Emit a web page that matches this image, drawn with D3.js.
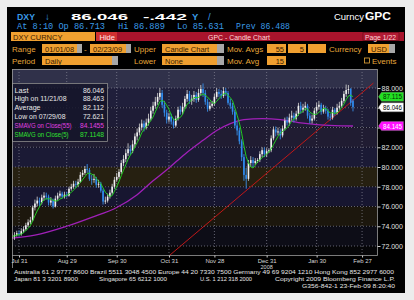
<!DOCTYPE html>
<html lang="en">
<head>
<meta charset="utf-8">
<title>DXY Curncy GPC</title>
<script src="https://d3js.org/d3.v7.min.js"></script>
<style>
  body { margin: 0; background: #ececec; }
  text { font-family: "Liberation Sans", Arial, sans-serif; }
  .mono { font-family: "Liberation Mono", "DejaVu Sans Mono", monospace; }
</style>
</head>
<body>
<div id="chart"></div>
<script>
// trading days shown on the axis (weekdays), first / last
var firstDay = "2008-07-28", lastDay = "2009-03-09";

// daily OHLC, Jul 28 2008 .. Feb 23 2009
var opens = [72.80,72.95,73.10,73.30,73.20, 73.50,73.70,74.10,74.40,74.60, 75.90,76.30,76.60,76.40,76.90, 77.10,77.00,76.40,76.60,76.00, 76.80,77.10,77.30,77.00,77.20,
  77.10,77.80,78.00,78.30,78.20, 78.50,79.20,79.40,79.80,79.70, 78.80,78.70,78.80,78.20,78.30, 77.60,76.50,76.60,77.00,77.40, 78.00,78.70,
  79.00,79.50,80.40, 80.80,81.40,81.80,81.60,82.30, 83.10,83.50,84.00,84.40,84.00, 84.50,84.90,85.70,86.20,86.60, 87.10,87.50,86.30,85.50,84.80,
  85.10,84.60,84.20,84.90,85.80, 85.60,86.10,86.90,87.40,86.70, 86.90,87.30,86.80,87.50,87.90, 87.50,86.60,85.90,86.20,86.40,
  87.10,87.60,87.40,87.20,87.70, 87.50,86.50,86.20,85.60,84.20, 83.70,82.60,81.00,79.20,78.80, 80.40,80.70,80.40,80.60,80.70, 81.30,81.70,81.30,
  81.60,81.70, 82.90,83.80,83.50,83.60,83.20, 83.90,84.70,84.50,85.00,85.20, 84.90,85.40,86.20,85.80,86.00, 86.20,85.20,84.70,84.90,85.70,
  86.10,86.30,85.60,85.90,85.70, 85.10,85.00,85.80,85.50,86.00, 86.20,86.70,87.40,87.80,87.90, 86.71];
var highs = [73.25,73.40,73.55,73.60,73.80, 74.00,74.35,74.70,74.95,76.10, 76.70,77.00,76.90,77.20,77.45, 77.40,77.20,76.95,76.80,77.10, 77.40,77.60,77.50,77.50,77.50,
  78.00,78.30,78.60,78.60,78.80, 79.50,79.70,80.10,80.30,79.90, 79.20,79.30,79.00,78.70,78.50, 77.80,77.00,77.30,77.70,78.30, 79.00,79.40,
  79.80,80.70,81.20, 81.80,82.40,82.20,82.70,83.40, 83.90,84.40,84.80,84.70,84.90, 85.40,86.10,86.60,87.10,87.50, 88.00,87.80,86.70,85.80,85.50,
  85.40,84.90,85.20,86.10,86.20, 86.50,87.20,87.80,87.70,87.30, 87.70,87.60,87.90,88.30,88.463, 87.80,86.90,86.60,86.70,87.40,
  88.00,87.90,87.80,88.10,88.00, 87.70,86.90,86.50,85.80,84.60, 84.00,82.80,81.30,79.90,80.70, 81.10,81.00,80.90,80.90,81.60, 82.00,82.00,81.90,
  81.90,83.20, 84.10,84.10,84.00,83.90,84.20, 85.00,85.10,85.40,85.70,85.50, 85.70,86.50,86.60,86.40,86.60, 86.40,85.50,85.30,86.00,86.50,
  86.70,86.50,86.30,86.20,85.90, 85.40,86.10,86.00,86.40,86.60, 87.00,87.70,88.35,88.30,88.00, 86.889];
var lows = [72.70,72.62,72.95,72.95,73.05, 73.30,73.55,73.90,74.20,74.50, 75.60,76.00,76.00,76.20,76.60, 76.70,76.10,76.10,75.80,75.90, 76.60,76.90,76.80,76.80,76.90,
  77.00,77.60,77.80,77.90,78.00, 78.40,79.00,79.20,79.40,78.60, 78.20,78.40,77.90,77.90,77.40, 76.20,76.25,76.40,76.80,77.20, 77.80,78.50,
  78.80,79.30,80.10, 80.50,81.10,81.20,81.40,82.00, 82.70,83.20,83.70,83.60,83.80, 84.20,84.70,85.40,85.90,86.30, 86.80,86.00,85.10,84.40,84.50,
  84.30,83.90,84.00,84.70,85.30, 85.30,85.90,86.60,86.40,86.30, 86.60,86.50,86.60,87.20,87.10, 86.30,85.60,85.70,86.00,86.20,
  86.90,87.10,86.90,87.00,87.20, 86.30,85.90,85.30,83.90,83.20, 82.30,80.60,78.60,77.80,78.60, 80.00,80.00,80.20,80.40,80.50, 81.00,81.00,81.00,
  81.40,81.50, 82.70,83.10,83.20,82.80,83.00, 83.70,84.20,84.20,84.70,84.50, 84.70,85.20,85.40,85.50,85.70, 84.90,84.40,84.40,84.70,85.40,
  85.80,85.30,85.40,85.40,84.80, 84.70,84.80,85.20,85.30,85.80, 86.00,86.50,87.10,87.40,86.20, 85.631];
var closes = [72.95,73.10,73.30,73.20,73.50, 73.70,74.10,74.40,74.60,75.90, 76.30,76.60,76.40,76.90,77.10, 77.00,76.40,76.60,76.00,76.80, 77.10,77.30,77.00,77.20,77.10,
  77.80,78.00,78.30,78.20,78.50, 79.20,79.40,79.80,79.70,78.80, 78.70,78.80,78.20,78.30,77.60, 76.50,76.60,77.00,77.40,78.00, 78.70,79.00,
  79.50,80.40,80.80, 81.40,81.80,81.60,82.30,83.10, 83.50,84.00,84.40,84.00,84.50, 84.90,85.70,86.20,86.60,87.10, 87.50,86.30,85.50,84.80,85.10,
  84.60,84.20,84.90,85.80,85.60, 86.10,86.90,87.40,86.70,86.90, 87.30,86.80,87.50,87.90,87.50, 86.60,85.90,86.20,86.40,87.10,
  87.60,87.40,87.20,87.70,87.50, 86.50,86.20,85.60,84.20,83.70, 82.60,81.00,79.20,78.80,80.40, 80.70,80.40,80.60,80.70,81.30, 81.70,81.30,81.60,
  81.70,82.90, 83.80,83.50,83.60,83.20,83.90, 84.70,84.50,85.00,85.20,84.90, 85.40,86.20,85.80,86.00,86.20, 85.20,84.70,84.90,85.70,86.10,
  86.30,85.60,85.90,85.70,85.10, 85.00,85.80,85.50,86.00,86.20, 86.70,87.40,87.80,87.90,86.49, 86.05];

// 55 day SMA at these trading-day positions
var sma55Idx  = [0, 10, 24, 35, 46, 55, 62, 69, 76, 84, 90, 96, 102, 110, 118, 126, 134, 142, 150];
var sma55Vals = [72.8, 73.1, 74.0, 74.9, 75.9, 77.2, 78.6, 79.9, 81.3, 82.7, 83.7, 84.4, 84.8, 84.9, 84.8, 84.5, 84.3, 84.2, 84.15];

// red trend line end points
var trendDates = ["2008-10-31", "2009-03-06"];
var trendVals = [71.0, 88.5];

var yTicks = [72, 74, 76, 78, 80, 82, 84, 86, 88];
var xTickDates = ["2008-07-31","2008-08-29","2008-09-30","2008-10-31","2008-11-28","2008-12-31","2009-01-30","2009-02-27"];
var xTickLabels = ["Jul 31","Aug 29","Sep 30","Oct 31","Nov 28","Dec 31","Jan 30","Feb 27"];

var legendLabels = ["Last", "High on 11/21/08", "Average", "Low on  07/29/08", "SMAVG on Close(55)", "SMAVG on Close(5)"];
var legendValues = ["86.046", "88.463", "82.112", "72.621", "84.1455", "87.1148"];
var legendColors = ["#e8e8e8", "#e8e8e8", "#e8e8e8", "#e8e8e8", "#e040e0", "#30e030"];

var tagValues = [87.1148, 86.046, 84.1455];
var tagLabels = ["87.115", "86.046", "84.145"];

var W = 414, H = 300;
var plotL = 12, plotR = 377, plotT = 69, plotB = 255;
var orange = "#f0a030", labelOrange = "#e8a83a", blue = "#3a9ae6";

var svg = d3.select("#chart").append("svg")
    .attr("width", W).attr("height", H);

svg.append("rect").attr("width", W).attr("height", H).attr("fill", "#ececec");
svg.append("rect").attr("x", 7).attr("y", 7).attr("width", 398).attr("height", 286).attr("fill", "#000");

// ---- header ----
function txt(s, x, yy, opts) {
    var t = svg.append("text").attr("x", x).attr("y", yy).text(s)
        .attr("fill", opts.fill || "#fff")
        .attr("font-size", opts.size || 8);
    if (opts.bold) t.attr("font-weight", "bold");
    if (opts.mono) t.attr("class", "mono");
    if (opts.len) t.attr("textLength", opts.len).attr("lengthAdjust", "spacingAndGlyphs");
    if (opts.anchor) t.attr("text-anchor", opts.anchor);
    return t;
}
txt("DXY", 17, 19.5, {fill: blue, size: 9.5, bold: true, len: 18});
txt("\u2193", 45, 19.5, {fill: blue, size: 9.5, bold: true});
txt("86.046", 71, 19.5, {size: 9.5, bold: true, len: 57});
txt("-.442", 143, 19.5, {size: 9.5, bold: true, len: 44});
txt("Y", 192, 19.5, {fill: blue, size: 9.5, bold: true});
txt("/", 208, 19.5, {fill: blue, size: 9.5});
txt("Curncy", 334, 19.5, {size: 9, len: 30});
txt("GPC", 365, 19.5, {size: 10, bold: true, len: 26});

txt("At 8:10 Op 86.713", 17, 29, {fill: blue, size: 8.8, mono: true, len: 88});
txt("Hi 86.889", 118, 29, {fill: blue, size: 8.8, mono: true, len: 47});
txt("Lo 85.631", 177, 29, {fill: blue, size: 8.8, mono: true, len: 47});
txt("Prev 86.488", 236, 29, {fill: blue, size: 8.8, mono: true, len: 54});

// ---- form rows ----
svg.append("rect").attr("x", 11).attr("y", 32).attr("width", 84).attr("height", 9).attr("fill", orange);
txt("DXY CURNCY", 13, 39.5, {fill: "#3a1c00", size: 7.5});
svg.append("rect").attr("x", 117).attr("y", 32).attr("width", 287).attr("height", 9).attr("fill", "#a8142c");
svg.append("rect").attr("x", 96).attr("y", 32).attr("width", 21).attr("height", 9).attr("fill", "#d03030");
txt("Hide", 99.5, 39.5, {fill: "#ffe8e8", size: 7.5});
txt("GPC - Candle Chart", 208, 39.5, {fill: "#ffd8d8", size: 7.5, len: 62});
svg.append("rect").attr("x", 363).attr("y", 32.5).attr("width", 36).attr("height", 8).attr("fill", "#b01a34")
    .attr("stroke", "#70101c").attr("stroke-width", 0.8);
txt("Page 1/22", 365, 39.5, {fill: "#ffd8d8", size: 7.5, len: 31});

function field(x, w, gray, label, yy, right) {
    svg.append("rect").attr("x", x).attr("y", yy).attr("width", w).attr("height", 9).attr("fill", orange);
    if (gray) svg.append("rect").attr("x", x + w).attr("y", yy).attr("width", gray).attr("height", 9).attr("fill", "#a8a8a8");
    if (label) {
        if (right) txt(label, x + w - 2, yy + 7.5, {fill: "#3a1c00", size: 7.5, anchor: "end"});
        else txt(label, x + 3, yy + 7.5, {fill: "#3a1c00", size: 7.5});
    }
}
var r1 = 44, r2 = 56;
txt("Range", 12, r1 + 7.5, {fill: labelOrange, size: 8});
field(42, 35, 5, "01/01/08", r1);
txt("-", 84, r1 + 7.5, {fill: labelOrange, size: 8});
field(90, 36, 5, "02/23/09", r1);
txt("Upper", 134, r1 + 7.5, {fill: labelOrange, size: 8});
field(162, 55, 7, "Candle Chart", r1);
txt("Mov. Avgs", 227, r1 + 7.5, {fill: labelOrange, size: 8});
field(267, 19, 0, "55", r1, true);
field(288, 18, 0, "5", r1, true);
field(308, 18, 0, "", r1);
txt("Currency", 329, r1 + 7.5, {fill: labelOrange, size: 8});
field(368, 21, 6, "USD", r1);

txt("Period", 12, r2 + 7.5, {fill: labelOrange, size: 8});
field(42, 70, 6, "Daily", r2);
txt("Lower", 134, r2 + 7.5, {fill: labelOrange, size: 8});
field(162, 55, 7, "None", r2);
txt("Mov. Avg", 227, r2 + 7.5, {fill: labelOrange, size: 8});
field(267, 19, 0, "15", r2, true);
svg.append("rect").attr("x", 364.5).attr("y", r2 + 2).attr("width", 5).attr("height", 5)
    .attr("fill", "none").attr("stroke", labelOrange).attr("stroke-width", 0.8);
txt("Events", 372, r2 + 7.5, {fill: labelOrange, size: 8});

// ---- scales ----
var parse = d3.timeParse("%Y-%m-%d"), fmt = d3.timeFormat("%Y-%m-%d");
var days = d3.timeDays(parse(firstDay), d3.timeDay.offset(parse(lastDay), 1))
    .filter(function(d) { return d.getDay() % 6 !== 0; })
    .map(fmt);

var x = d3.scalePoint().domain(days).range([12.2, 375.7]);
var y = d3.scaleLinear().domain([72, 88]).range([246, 88]);

var bars = closes.map(function(c, i) {
    return {key: days[i], open: opens[i], high: highs[i], low: lows[i], close: c};
});

svg.append("clipPath").attr("id", "clip").append("rect")
    .attr("x", plotL).attr("y", plotT).attr("width", plotR - plotL).attr("height", plotB - plotT);

// ---- plot background bands ----
var bands = [[88, 90, "#30314a"], [86, 88, "#201f3b"], [84, 86, "#1e1c36"], [82, 84, "#201c32"],
             [80, 82, "#1b1a35"], [78, 80, "#262011"], [76, 78, "#171630"], [74, 76, "#1c170d"],
             [72, 74, "#0d0d17"], [70, 72, "#060608"]];
var bg = svg.append("g").attr("clip-path", "url(#clip)");
bg.selectAll("rect").data(bands).join("rect")
    .attr("x", plotL).attr("width", plotR - plotL)
    .attr("y", function(d) { return y(d[1]); })
    .attr("height", function(d) { return y(d[0]) - y(d[1]); })
    .attr("fill", function(d) { return d[2]; });

// grid
bg.selectAll("line.h").data(yTicks).join("line").attr("class", "h")
    .attr("x1", plotL).attr("x2", plotR)
    .attr("y1", function(d) { return y(d); }).attr("y2", function(d) { return y(d); })
    .attr("stroke", "#8a8a9a").attr("stroke-width", 0.7).attr("stroke-dasharray", "1,2");
bg.selectAll("line.v").data(xTickDates).join("line").attr("class", "v")
    .attr("x1", function(d) { return x(d); }).attr("x2", function(d) { return x(d); })
    .attr("y1", plotT).attr("y2", plotB)
    .attr("stroke", "#8a8a9a").attr("stroke-width", 0.7).attr("stroke-dasharray", "1,2");

// ---- legend box ----
var legendLen = [14, 52, 26, 51, 57, 54];
svg.append("rect").attr("x", 12.5).attr("y", 83.5).attr("width", 95).attr("height", 58)
    .attr("fill", "#15152a").attr("fill-opacity", 0.85)
    .attr("stroke", "#8a8a8a").attr("stroke-width", 0.8);
legendLabels.forEach(function(l, i) {
    var yy = 92.5 + i * 8.8;
    txt(l, 14.5, yy, {fill: legendColors[i], size: 6.8, len: legendLen[i]});
    txt(legendValues[i], 104, yy, {fill: legendColors[i], size: 6.8, anchor: "end",
        len: legendValues[i].length > 6 ? 24 : 21});
});

// ---- lines and candles ----
var plot = svg.append("g").attr("clip-path", "url(#clip)");

plot.append("path")
    .datum(trendDates.map(function(d, i) { return [d, trendVals[i]]; }))
    .attr("fill", "none").attr("stroke", "#c01818").attr("stroke-width", 1)
    .attr("d", d3.line().x(function(d) { return x(d[0]); }).y(function(d) { return y(d[1]); }));

plot.append("path")
    .datum(sma55Idx.map(function(k, i) { return [days[k], sma55Vals[i]]; }))
    .attr("fill", "none").attr("stroke", "#a020b8").attr("stroke-width", 1.3)
    .attr("d", d3.line().curve(d3.curveMonotoneX)
        .x(function(d) { return x(d[0]); }).y(function(d) { return y(d[1]); }));

plot.selectAll("line.wick").data(bars).join("line").attr("class", "wick")
    .attr("x1", function(d) { return x(d.key); }).attr("x2", function(d) { return x(d.key); })
    .attr("y1", function(d) { return y(d.high); }).attr("y2", function(d) { return y(d.low); })
    .attr("stroke", function(d) { return d.close >= d.open ? "#c4c4c4" : "#3a8ee6"; })
    .attr("stroke-width", 0.9);

plot.selectAll("rect.body").data(bars).join("rect").attr("class", "body")
    .attr("x", function(d) { return x(d.key) - 0.8; }).attr("width", 1.6)
    .attr("y", function(d) { return y(Math.max(d.open, d.close)); })
    .attr("height", function(d) { return Math.max(1, Math.abs(y(d.open) - y(d.close))); })
    .attr("fill", function(d) { return d.close >= d.open ? "#f0f0f0" : "#2f8cf0"; });

// 5 day moving average of the closes
var sma5 = closes.map(function(c, i) {
    return [days[i], d3.mean(closes.slice(Math.max(0, i - 4), i + 1))];
});
plot.append("path").datum(sma5)
    .attr("fill", "none").attr("stroke", "#22cc22").attr("stroke-width", 1)
    .attr("d", d3.line().x(function(d) { return x(d[0]); }).y(function(d) { return y(d[1]); }));

// ---- frame and axes ----
svg.append("rect").attr("x", plotL + 0.5).attr("y", plotT + 0.5)
    .attr("width", plotR - plotL).attr("height", plotB - plotT)
    .attr("fill", "none").attr("stroke", "#9a9a9a").attr("stroke-width", 0.8);
svg.append("line").attr("x1", plotL + 0.5).attr("x2", plotL + 0.5).attr("y1", plotB).attr("y2", 268)
    .attr("stroke", "#9a9a9a").attr("stroke-width", 0.8);

var yAxis = svg.append("g").attr("transform", "translate(" + (plotR + 0.5) + ",0)")
    .call(d3.axisRight(y).tickValues(yTicks).tickFormat(d3.format(".3f")).tickSize(3).tickPadding(1));
yAxis.select(".domain").remove();
yAxis.selectAll("line").attr("stroke", "#cfcfcf");
yAxis.selectAll("text").attr("fill", "#e0e0e0").attr("font-size", 7)
    .attr("font-family", "Liberation Sans, Arial, sans-serif");

var xAxis = svg.append("g").attr("transform", "translate(0," + (plotB + 0.5) + ")")
    .call(d3.axisBottom(x).tickValues(xTickDates)
        .tickFormat(function(d, i) { return xTickLabels[i]; }).tickSize(2).tickPadding(1));
xAxis.select(".domain").remove();
xAxis.selectAll("line").attr("stroke", "#cfcfcf");
xAxis.selectAll("text").attr("fill", "#d8d8d8").attr("font-size", 6)
    .attr("font-family", "Liberation Sans, Arial, sans-serif");
txt("2008", x("2008-12-31"), 268.5, {fill: "#d8d8d8", size: 5.5, anchor: "middle"});

// value tags on the right axis
var tagFill = ["#22e022", "#ffffff", "#ff10ff"], tagText = ["#003000", "#000000", "#ffffff"];
tagValues.forEach(function(v, i) {
    var cy = y(v), x0 = plotR + 1.5;
    svg.append("path")
        .attr("d", "M" + x0 + "," + cy + "L" + (x0 + 3) + "," + (cy - 4.5) + "H" + (x0 + 25) +
              "V" + (cy + 4.5) + "H" + (x0 + 3) + "Z")
        .attr("fill", tagFill[i]).attr("stroke", "#888").attr("stroke-width", 0.4);
    txt(tagLabels[i], x0 + 4.5, cy + 2.6, {fill: tagText[i], size: 7, len: 19});
});

// ---- footer ----
var foot = "#e6e6e6";
txt("Australia 61 2 9777 8600 Brazil 5511 3048 4500 Europe 44 20 7330 7500 Germany 49 69 9204 1210 Hong Kong 852 2977 6000",
    14, 273.5, {fill: foot, size: 5.6, len: 380});
txt("Japan 81 3 3201 8900", 14, 280.5, {fill: foot, size: 5.6, len: 64});
txt("Singapore 65 6212 1000", 99, 280.5, {fill: foot, size: 5.6, len: 68});
txt("U.S. 1 212 318 2000", 200, 280.5, {fill: foot, size: 5.6, len: 52});
txt("Copyright 2009 Bloomberg Finance L.P.", 275, 280.5, {fill: foot, size: 5.6, len: 120});
txt("G356-842-1 23-Feb-09  8:20:40", 302, 287.5, {fill: foot, size: 5.6, len: 93});
</script>
</body>
</html>
